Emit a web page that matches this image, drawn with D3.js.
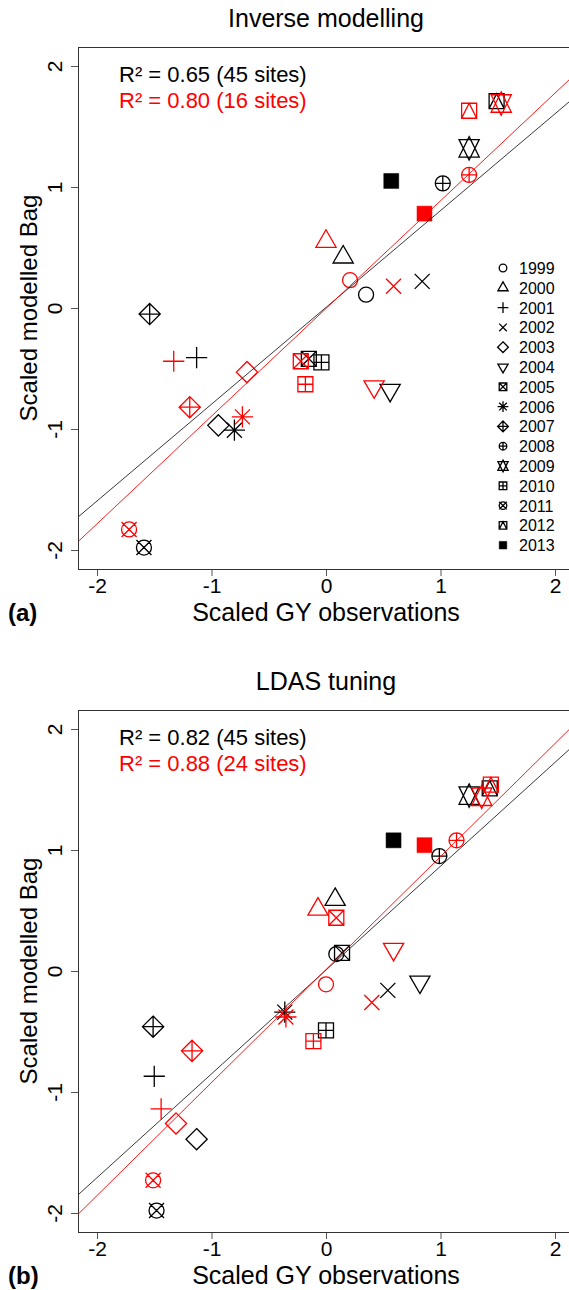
<!DOCTYPE html>
<html>
<head>
<meta charset="utf-8">
<script src="https://cdn.jsdelivr.net/npm/d3@7"></script>
<style>
  body { margin: 0; background: #fff; }
  svg { display: block; font-family: "Liberation Sans", Arial, sans-serif; }
</style>
</head>
<body>
<svg id="chart" width="569" height="1290"></svg>
<script>
// years -> R plotting symbols 1..15
const years = [1999, 2000, 2001, 2002, 2003, 2004, 2005, 2006, 2007, 2008, 2009, 2010, 2011, 2012, 2013];
const pchs  = [1, 2, 3, 4, 5, 6, 7, 8, 9, 10, 11, 12, 13, 14, 15];

// (a) Inverse modelling
const invBlackObs = [0.35, 0.15, -1.13, 0.84, -0.94, 0.56, -0.15, -0.80, -1.54, 1.02, 1.25, -0.04, -1.59, 1.49, 0.57];
const invBlackMod = [0.11, 0.42, -0.41, 0.22, -0.97, -0.68, -0.42, -1.01, -0.05, 1.03, 1.32, -0.45, -1.98, 1.71, 1.05];
const invRedObs   = [0.21, 0.00, -1.33, 0.59, -0.69, 0.42, -0.22, -0.73, -1.19, 1.25, 1.53, -0.18, -1.72, 1.25, 0.86];
const invRedMod   = [0.23, 0.55, -0.44, 0.18, -0.53, -0.65, -0.44, -0.90, -0.82, 1.10, 1.69, -0.63, -1.83, 1.63, 0.78];

// (b) LDAS tuning
const ldasBlackObs = [0.09, 0.08, -1.50, 0.54, -1.13, 0.82, 0.14, -0.36, -1.51, 0.99, 1.25, 0.00, -1.48, 1.43, 0.59];
const ldasBlackMod = [0.14, 0.59, -0.87, -0.16, -1.39, -0.09, 0.15, -0.34, -0.46, 0.95, 1.45, -0.49, -1.98, 1.51, 1.08];
const ldasRedObs   = [0.00, -0.07, -1.44, 0.40, -1.31, 0.59, 0.09, -0.35, -1.17, 1.14, 1.36, -0.11, -1.51, 1.44, 0.86];
const ldasRedMod   = [-0.11, 0.51, -1.14, -0.26, -1.26, 0.18, 0.44, -0.38, -0.66, 1.08, 1.44, -0.58, -1.73, 1.54, 1.04];

// regression lines [slope, intercept]
const invFitBlack = [0.80, 0.005];
const invFitRed = [0.89, -0.004];
const ldasFitBlack = [0.858, 0.008];
const ldasFitRed = [0.934, 0.012];

const invR2 = ["R² = 0.65 (45 sites)", "R² = 0.80 (16 sites)"];
const ldasR2 = ["R² = 0.82 (45 sites)", "R² = 0.88 (24 sites)"];
const tickVals = [-2, -1, 0, 1, 2];

const svg = d3.select("#chart");
const RED = "#ff0000";

// R-style point symbols, s = RADIUS * cex in px
function pchPath(pch, s) {
  const p = d3.path();
  const sq = Math.SQRT2 * s;
  const circle = r => { p.moveTo(r, 0); p.arc(0, 0, r, 0, 2 * Math.PI); };
  const plus = h => { p.moveTo(-h, 0); p.lineTo(h, 0); p.moveTo(0, -h); p.lineTo(0, h); };
  const cross = h => { p.moveTo(-h, -h); p.lineTo(h, h); p.moveTo(-h, h); p.lineTo(h, -h); };
  const square = h => { p.rect(-h, -h, 2 * h, 2 * h); };
  const diamond = h => { p.moveTo(0, -h); p.lineTo(h, 0); p.lineTo(0, h); p.lineTo(-h, 0); p.closePath(); };
  const tri = (dir) => {
    const r = 1.55512 * s, yc = 0.77756 * s, xc = 1.34677 * s;
    p.moveTo(0, -dir * r); p.lineTo(xc, dir * yc); p.lineTo(-xc, dir * yc); p.closePath();
  };
  switch (pch) {
    case 1: circle(s); break;
    case 2: tri(1); break;
    case 3: plus(sq); break;
    case 4: cross(s); break;
    case 5: diamond(sq); break;
    case 6: tri(-1); break;
    case 7: square(s); cross(s); break;
    case 8: cross(s); plus(sq); break;
    case 9: diamond(sq); plus(sq); break;
    case 10: circle(s); plus(s); break;
    case 11: {
      const r = 1.55512 * s, yc = 0.5 * (0.77756 * s + r), xc = 1.34677 * s;
      p.moveTo(0, r); p.lineTo(xc, -yc); p.lineTo(-xc, -yc); p.closePath();
      p.moveTo(0, -r); p.lineTo(xc, yc); p.lineTo(-xc, yc); p.closePath();
      break;
    }
    case 12: square(s); plus(s); break;
    case 13: circle(s); cross(s); break;
    case 14: square(s); p.moveTo(-s, s); p.lineTo(0, -s); p.lineTo(s, s); break;
    case 15: square(s); break;
  }
  return p.toString();
}

function drawPoint(g, pch, x, y, s, color) {
  g.append("path")
    .attr("transform", `translate(${x},${y})`)
    .attr("d", pchPath(pch, s))
    .attr("fill", pch === 15 ? color : "none")
    .attr("stroke", color)
    .attr("stroke-width", pch === 15 ? 0.5 : 1.3);
}

function panel(cfg) {
  const top = cfg.top, bottom = cfg.top + 522, left = 78, right = 590;
  const x = d3.scaleLinear().domain([-2, 2]).range([97, 555]);
  const y = d3.scaleLinear().domain([-2, 2]).range([top + 503, top + 19]);
  const g = svg.append("g");

  const clipId = "clip" + cfg.tag.replace(/\W/g, "");
  svg.append("clipPath").attr("id", clipId)
    .append("rect").attr("x", left).attr("y", top).attr("width", right - left).attr("height", bottom - top);

  // title
  g.append("text").attr("x", 326).attr("y", top - 20)
    .attr("text-anchor", "middle").attr("font-size", 25).text(cfg.title);

  // axes
  const xa = g.append("g").attr("transform", `translate(0,${bottom})`)
    .call(d3.axisBottom(x).tickValues(tickVals).tickSize(7).tickPadding(4).tickFormat(d => String(d)));
  xa.select(".domain").remove();
  xa.selectAll("line").attr("stroke", "#555");
  xa.selectAll("text").attr("font-size", 21).attr("font-family", null).attr("fill", "#000")
    .attr("dy", null).attr("y", 24);

  const ya = g.append("g").attr("transform", `translate(${left},0)`)
    .call(d3.axisLeft(y).tickValues(tickVals).tickSize(7).tickFormat(d => String(d)));
  ya.select(".domain").remove();
  ya.selectAll("line").attr("stroke", "#555");
  ya.selectAll("text").attr("font-size", 21).attr("font-family", null).attr("fill", "#000")
    .attr("x", null).attr("dy", null).attr("text-anchor", "middle")
    .attr("transform", "rotate(-90)").attr("y", -16);

  // frame
  g.append("rect").attr("x", left + 0.5).attr("y", top + 0.5)
    .attr("width", right - left).attr("height", bottom - top)
    .attr("fill", "none").attr("stroke", "#333").attr("stroke-width", 1);

  // axis labels
  g.append("text").attr("x", 326).attr("y", bottom + 52)
    .attr("text-anchor", "middle").attr("font-size", 25).text("Scaled GY observations");
  g.append("text").attr("transform", `translate(37,${(top + bottom) / 2}) rotate(-90)`)
    .attr("text-anchor", "middle").attr("font-size", 24).text("Scaled modelled Bag");
  g.append("text").attr("x", 8).attr("y", bottom + 52)
    .attr("font-size", 24).attr("font-weight", "bold").text(cfg.tag);

  // R² text
  g.append("text").attr("x", 119).attr("y", top + 35).attr("font-size", 22).attr("fill", "#000").text(cfg.r2[0]);
  g.append("text").attr("x", 119).attr("y", top + 61).attr("font-size", 22).attr("fill", RED).text(cfg.r2[1]);

  // points
  const pts = g.append("g");
  years.forEach((yr, i) => drawPoint(pts, pchs[i], x(cfg.bx[i]), y(cfg.by[i]), 7.5, "#000"));
  years.forEach((yr, i) => drawPoint(pts, pchs[i], x(cfg.rx[i]), y(cfg.ry[i]), 7.5, RED));

  // fitted lines
  const lines = g.append("g").attr("clip-path", `url(#${clipId})`);
  const xs = [x.invert(left), x.invert(right)];
  [[cfg.fb, "#222"], [cfg.fr, RED]].forEach(([f, c]) => {
    lines.append("line")
      .attr("x1", x(xs[0])).attr("y1", y(f[0] * xs[0] + f[1]))
      .attr("x2", x(xs[1])).attr("y2", y(f[0] * xs[1] + f[1]))
      .attr("stroke", c).attr("stroke-width", 0.9);
  });

  // legend
  if (cfg.legend) {
    const lg = g.append("g");
    years.forEach((yr, i) => {
      const cy = top + 221 + i * 19.8;
      drawPoint(lg, pchs[i], 503, cy, 3.8, "#000");
      lg.append("text").attr("x", 519).attr("y", cy + 6).attr("font-size", 16).text(yr);
    });
  }
}

panel({ tag: "(a)", title: "Inverse modelling", top: 47, r2: invR2,
  bx: invBlackObs, by: invBlackMod, rx: invRedObs, ry: invRedMod,
  fb: invFitBlack, fr: invFitRed, legend: true });
panel({ tag: "(b)", title: "LDAS tuning", top: 710, r2: ldasR2,
  bx: ldasBlackObs, by: ldasBlackMod, rx: ldasRedObs, ry: ldasRedMod,
  fb: ldasFitBlack, fr: ldasFitRed, legend: false });
</script>
</body>
</html>
